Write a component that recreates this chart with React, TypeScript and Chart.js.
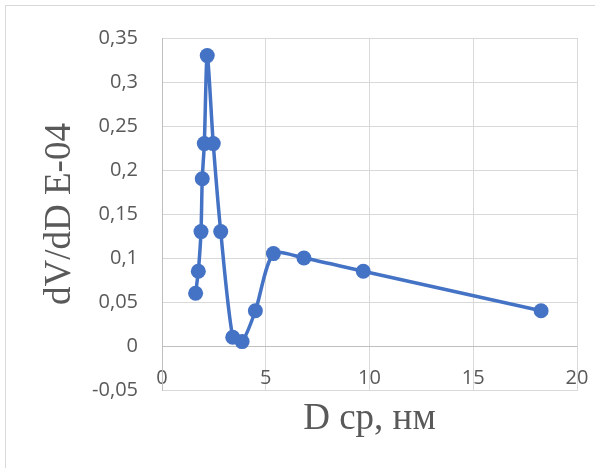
import React, { useEffect, useRef } from "react";
import { Chart, registerables } from "chart.js";

Chart.register(...registerables);

// Data
const diameters = [1.62, 1.75, 1.88, 1.94, 2.04, 2.18, 2.47, 2.83, 3.41, 3.86, 4.5, 5.37, 6.84, 9.7, 18.27];
const dVdD = [0.06, 0.085, 0.13, 0.19, 0.23, 0.33, 0.23, 0.13, 0.01, 0.005, 0.04, 0.105, 0.1, 0.085, 0.04];

const xTitle = "D ср, нм";
const yTitle = "dV/dD E-04";
const xMin = 0, xMax = 20, xStep = 5;
const yMin = -0.05, yMax = 0.35, yStep = 0.05;

const LINE = "#4472C4";
const GRID = "#d9d9d9";
const TEXT = "#595959";

function fmt(v: number): string {
  const n = Number(v.toFixed(2));
  return String(n).replace(".", ",");
}

export default function App() {
  const ref = useRef<HTMLCanvasElement | null>(null);

  useEffect(() => {
    document.body.style.margin = "0";
    const canvas = ref.current;
    if (!canvas) return;
    const chart = new Chart(canvas, {
      type: "line",
      data: {
        datasets: [
          {
            data: diameters.map((d, i) => ({ x: d, y: dVdD[i] })),
            borderColor: LINE,
            backgroundColor: LINE,
            borderWidth: 3.5,
            pointRadius: 7.5,
            pointBorderWidth: 0,
            pointBackgroundColor: LINE,
            tension: 0.25,
            fill: false,
          },
        ],
      },
      options: {
        responsive: false,
        animation: false,
        layout: { padding: { left: 0, top: 38, right: 18, bottom: 0 } },
        plugins: {
          legend: { display: false },
          tooltip: { enabled: false },
        },
        scales: {
          x: {
            type: "linear",
            min: xMin,
            max: xMax,
            afterFit: (s: any) => {
              s.height = 78;
            },
            ticks: {
              stepSize: xStep,
              color: TEXT,
              font: { family: "'Open Sans'", size: 20 },
              mirror: true,
              padding: 0,
              callback: (v: any) => fmt(Number(v)),
            },
            grid: { color: GRID, lineWidth: 1, drawTicks: false },
            border: { display: true, color: GRID, width: 1 },
            title: {
              display: true,
              text: xTitle,
              color: TEXT,
              font: { family: "'Liberation Serif'", size: 37, lineHeight: 1 },
              padding: { top: 0, bottom: 30 },
            },
          },
          y: {
            type: "linear",
            min: yMin,
            max: yMax,
            afterFit: (s: any) => {
              s.width = 162;
            },
            ticks: {
              stepSize: yStep,
              color: TEXT,
              font: { family: "'Open Sans'", size: 20 },
              padding: 24,
              callback: (v: any) => fmt(Number(v)),
            },
            grid: {
              color: (ctx: any) => (ctx.tick && Math.abs(ctx.tick.value) < 1e-9 ? "#bfbfbf" : GRID),
              lineWidth: 1,
              drawTicks: false,
            },
            border: { display: true, color: "#bfbfbf", width: 1 },
            title: {
              display: true,
              text: yTitle,
              color: TEXT,
              font: { family: "'Liberation Serif'", size: 37, lineHeight: 1 },
              padding: { top: 42, bottom: 0 },
            },
          },
        },
      },
    });
    return () => chart.destroy();
  }, []);

  return (
    <div style={{ position: "relative", width: 595, height: 468, background: "#fff", overflow: "hidden" }}>
      <div
        style={{
          position: "absolute",
          left: 5,
          top: 5,
          right: -10,
          bottom: -10,
          borderTop: "1.5px solid #d9d9d9",
          borderLeft: "1.5px solid #d9d9d9",
        }}
      />
      <canvas ref={ref} width={595} height={468} style={{ position: "absolute", left: 0, top: 0 }} />
    </div>
  );
}
